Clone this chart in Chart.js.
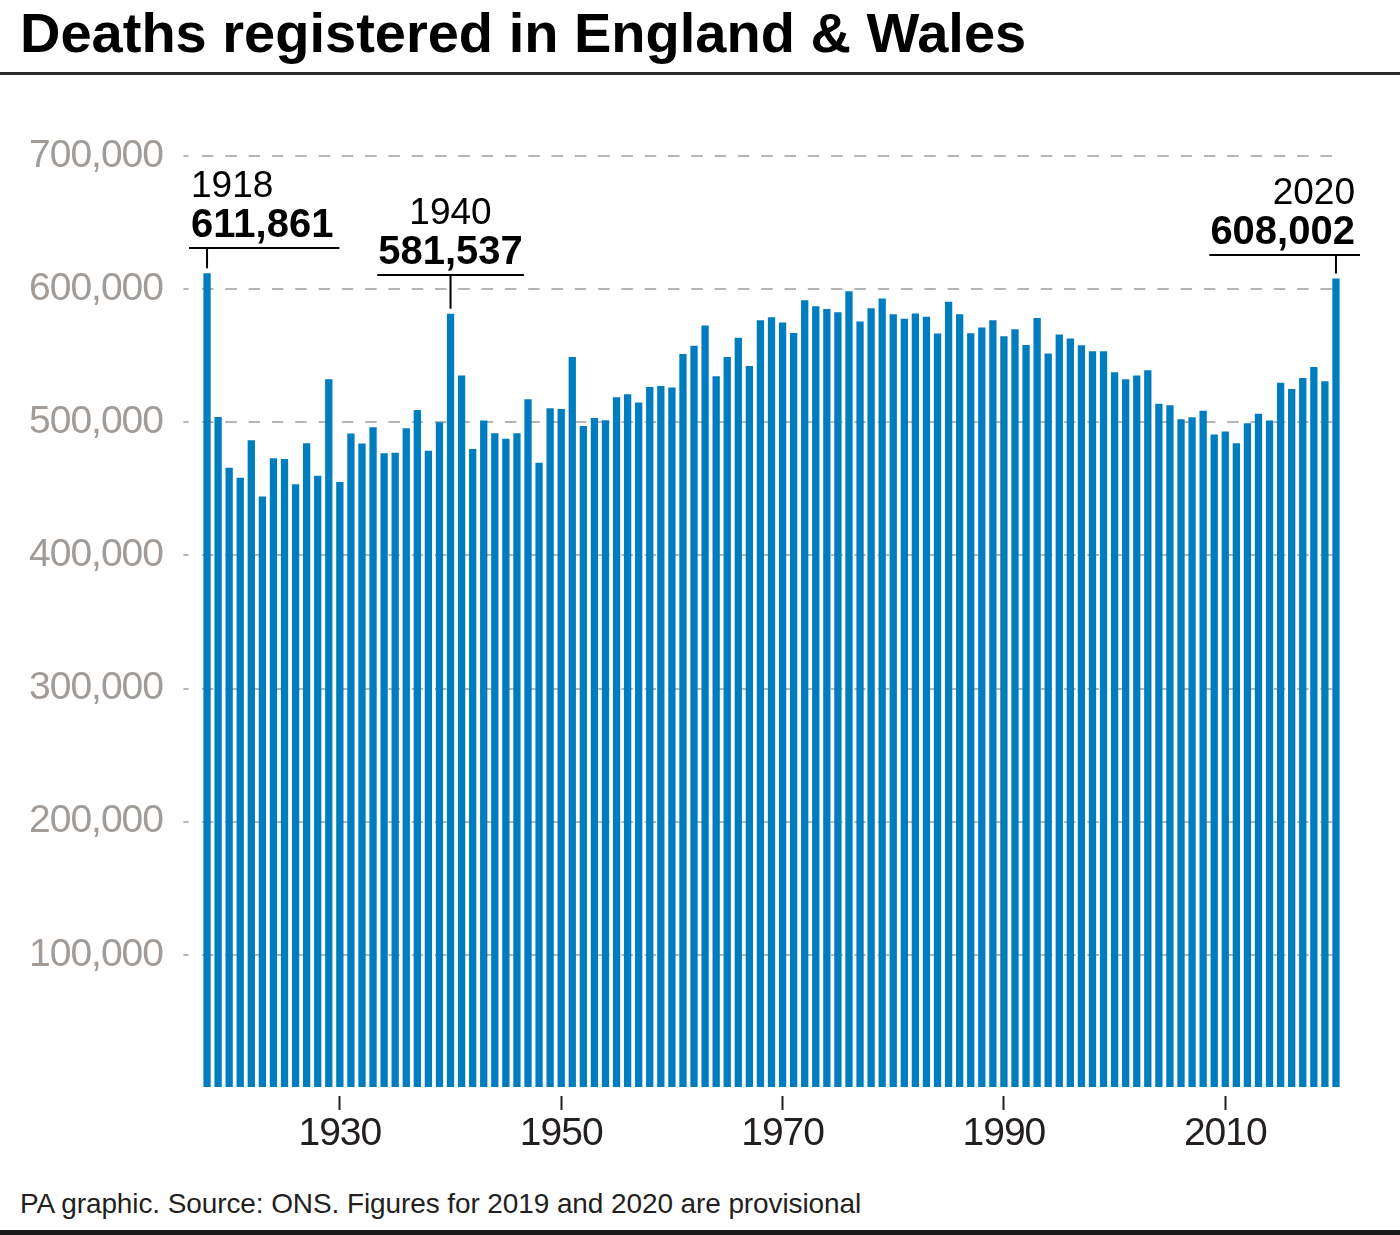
<!DOCTYPE html>
<html>
<head>
<meta charset="utf-8">
<title>Deaths registered in England & Wales</title>
<script src="https://cdn.jsdelivr.net/npm/chart.js@4.4.1/dist/chart.umd.min.js"></script>
<style>
  body { margin: 0; background: #fff; width: 1400px; height: 1235px; overflow: hidden; position: relative; font-family: "Liberation Sans", Arial, sans-serif; }
  #title { position: absolute; left: 20px; top: 5px; font-size: 56px; line-height: 56px; font-weight: bold; color: #000; white-space: nowrap; z-index: 2; }
  #rule { position: absolute; left: 0; top: 72px; width: 1400px; height: 3px; background: #2b2b2b; }
  #wrap { position: absolute; left: 0; top: 0; width: 1400px; height: 1170px; }
  #foot { position: absolute; left: 20px; top: 1190px; font-size: 28px; line-height: 28px; letter-spacing: -0.1px; color: #231f20; white-space: nowrap; }
  #bottom { position: absolute; left: 0; top: 1230px; width: 1400px; height: 5px; background: #1a1a1a; }
</style>
</head>
<body>
<div id="title">Deaths registered in England &amp; Wales</div>
<div id="rule"></div>
<div id="wrap"><canvas id="chart" width="1400" height="1170"></canvas></div>
<div id="foot">PA graphic. Source: ONS. Figures for 2019 and 2020 are provisional</div>
<div id="bottom"></div>

<script>
// years 1918 - 2020, one bar each
const firstYear = 1918;
const lastYear = 2020;
const years = Array.from({ length: lastYear - firstYear + 1 }, (_, i) => firstYear + i);

// deaths registered per year
const deaths = [
  611861, 504000, 465900, 458400, 486500, 444300, 472900, 472400, 453400, 484200, 459900, 532300, // 1918-1929
  455100, 491500, 484000, 496200, 476700, 477200, 495500, 509200, 478700, 500000,                 // 1930-1939
  581537, 535100, 479900, 501300, 491700, 487700, 491700, 517300, 469700, 510500,                 // 1940-1949
  510000, 549100, 497200, 503200, 501500, 518800, 521000, 514800, 526500, 527300,                 // 1950-1959
  526100, 551300, 557400, 572700, 534600, 549100, 563400, 542300, 576700, 578900,                 // 1960-1969
  575000, 567100, 591700, 587200, 585000, 582700, 598500, 575700, 585700, 593000,                 // 1970-1979
  581200, 577700, 581700, 579200, 566700, 590500, 581200, 566900, 571200, 576700,                 // 1980-1989
  564700, 569900, 558100, 578400, 551600, 565900, 562900, 557900, 553400, 553400,                 // 1990-1999
  537600, 532300, 535100, 539100, 514000, 512800, 502200, 503700, 508700, 490900,                 // 2000-2009
  493000, 484200, 499200, 506500, 501400, 529700, 525000, 533300, 541600, 530800,                 // 2010-2019
  608002                                                                                          // 2020
];

const xTickYears = [1930, 1950, 1970, 1990, 2010];
const yTicks = [100000, 200000, 300000, 400000, 500000, 600000, 700000];

// highlighted years with their callouts
const calloutYears = [1918, 1940, 2020];
const calloutAlign = ['left', 'center', 'right'];
const calloutLift = [25, 39, 23];

const FONT = '"Liberation Sans", Arial, sans-serif';
Chart.defaults.font.family = FONT;

const spacingPlugin = {
    id: 'spacing',
    beforeLayout(chart) { chart.ctx.letterSpacing = '-1px'; },
    beforeDraw(chart) { chart.ctx.letterSpacing = '-1px'; }
};

const calloutPlugin = {
    id: 'callouts',
    afterDatasetsDraw(chart) {
        const ctx = chart.ctx;
        const xs = chart.scales.x;
        const ys = chart.scales.y;
        ctx.save();
        ctx.letterSpacing = '0px';
        ctx.fillStyle = '#000';
        ctx.strokeStyle = '#000';
        ctx.lineWidth = 2;
        ctx.textBaseline = 'alphabetic';

        calloutYears.forEach((yr, k) => {
            const i = years.indexOf(yr);
            const bx = xs.getPixelForValue(i);
            const top = ys.getPixelForValue(deaths[i]);
            const lineY = Math.round(top - calloutLift[k]);
            const align = calloutAlign[k];
            const valueText = deaths[i].toLocaleString('en-GB');

            ctx.font = 'bold 40px ' + FONT;
            const w = ctx.measureText(valueText).width;

            let tx, left, right;
            if (align === 'left') { tx = bx - 16; left = tx - 2; right = tx + w + 6; }
            else if (align === 'center') { tx = bx; left = bx - w / 2 - 1; right = bx + w / 2 + 1; }
            else { tx = bx + 19; left = tx - w - 1; right = tx + 5; }

            ctx.textAlign = align;
            ctx.fillText(valueText, tx, lineY - 11);
            ctx.font = '37px ' + FONT;
            ctx.fillText(String(yr), tx, lineY - 51);

            ctx.beginPath();
            ctx.moveTo(left, lineY);
            ctx.lineTo(right, lineY);
            ctx.moveTo(bx, lineY);
            ctx.lineTo(bx, top - 5);
            ctx.stroke();
        });
        ctx.restore();
    }
};

new Chart(document.getElementById('chart').getContext('2d'), {
    type: 'bar',
    data: {
        labels: years,
        datasets: [{
            label: 'Deaths registered',
            data: deaths,
            backgroundColor: '#007dbe',
            borderWidth: 0,
            barPercentage: 0.66,
            categoryPercentage: 1.0
        }]
    },
    options: {
        responsive: false,
        animation: false,
        layout: { padding: { top: 156, right: 58.5, left: 0, bottom: 22 } },
        plugins: {
            legend: { display: false },
            tooltip: { enabled: false }
        },
        scales: {
            x: {
                afterFit(scale) { scale.height = 60; },
                border: { display: false },
                grid: {
                    offset: false,
                    drawOnChartArea: false,
                    tickLength: 22,
                    tickWidth: 2,
                    tickBorderDash: [0, 8, 14, 100],
                    tickColor: c => xTickYears.includes(years[c.index]) ? '#231f20' : 'rgba(0,0,0,0)'
                },
                ticks: {
                    autoSkip: false,
                    maxRotation: 0,
                    padding: 1,
                    color: '#231f20',
                    font: { size: 39 },
                    callback: (v, i) => xTickYears.includes(years[i]) ? String(years[i]) : ''
                }
            },
            y: {
                min: 0,
                max: 700000,
                afterFit(scale) { scale.width = 201.5; },
                afterBuildTicks(scale) { scale.ticks = [0].concat(yTicks).map(v => ({ value: v })); },
                border: { display: false, dash: [11.5, 11.8] },
                grid: {
                    lineWidth: 2,
                    tickLength: 18,
                    tickBorderDash: [5, 30],
                    color: c => c.tick && c.tick.value === 0 ? 'rgba(0,0,0,0)' : '#b5b5b5',
                    tickColor: c => c.tick && c.tick.value === 0 ? 'rgba(0,0,0,0)' : '#b5b5b5'
                },
                ticks: {
                    padding: 20.5,
                    color: '#a19c98',
                    font: { size: 39 },
                    callback: v => v === 0 ? '' : v.toLocaleString('en-GB')
                }
            }
        }
    },
    plugins: [spacingPlugin, calloutPlugin]
});
</script>
</body>
</html>
